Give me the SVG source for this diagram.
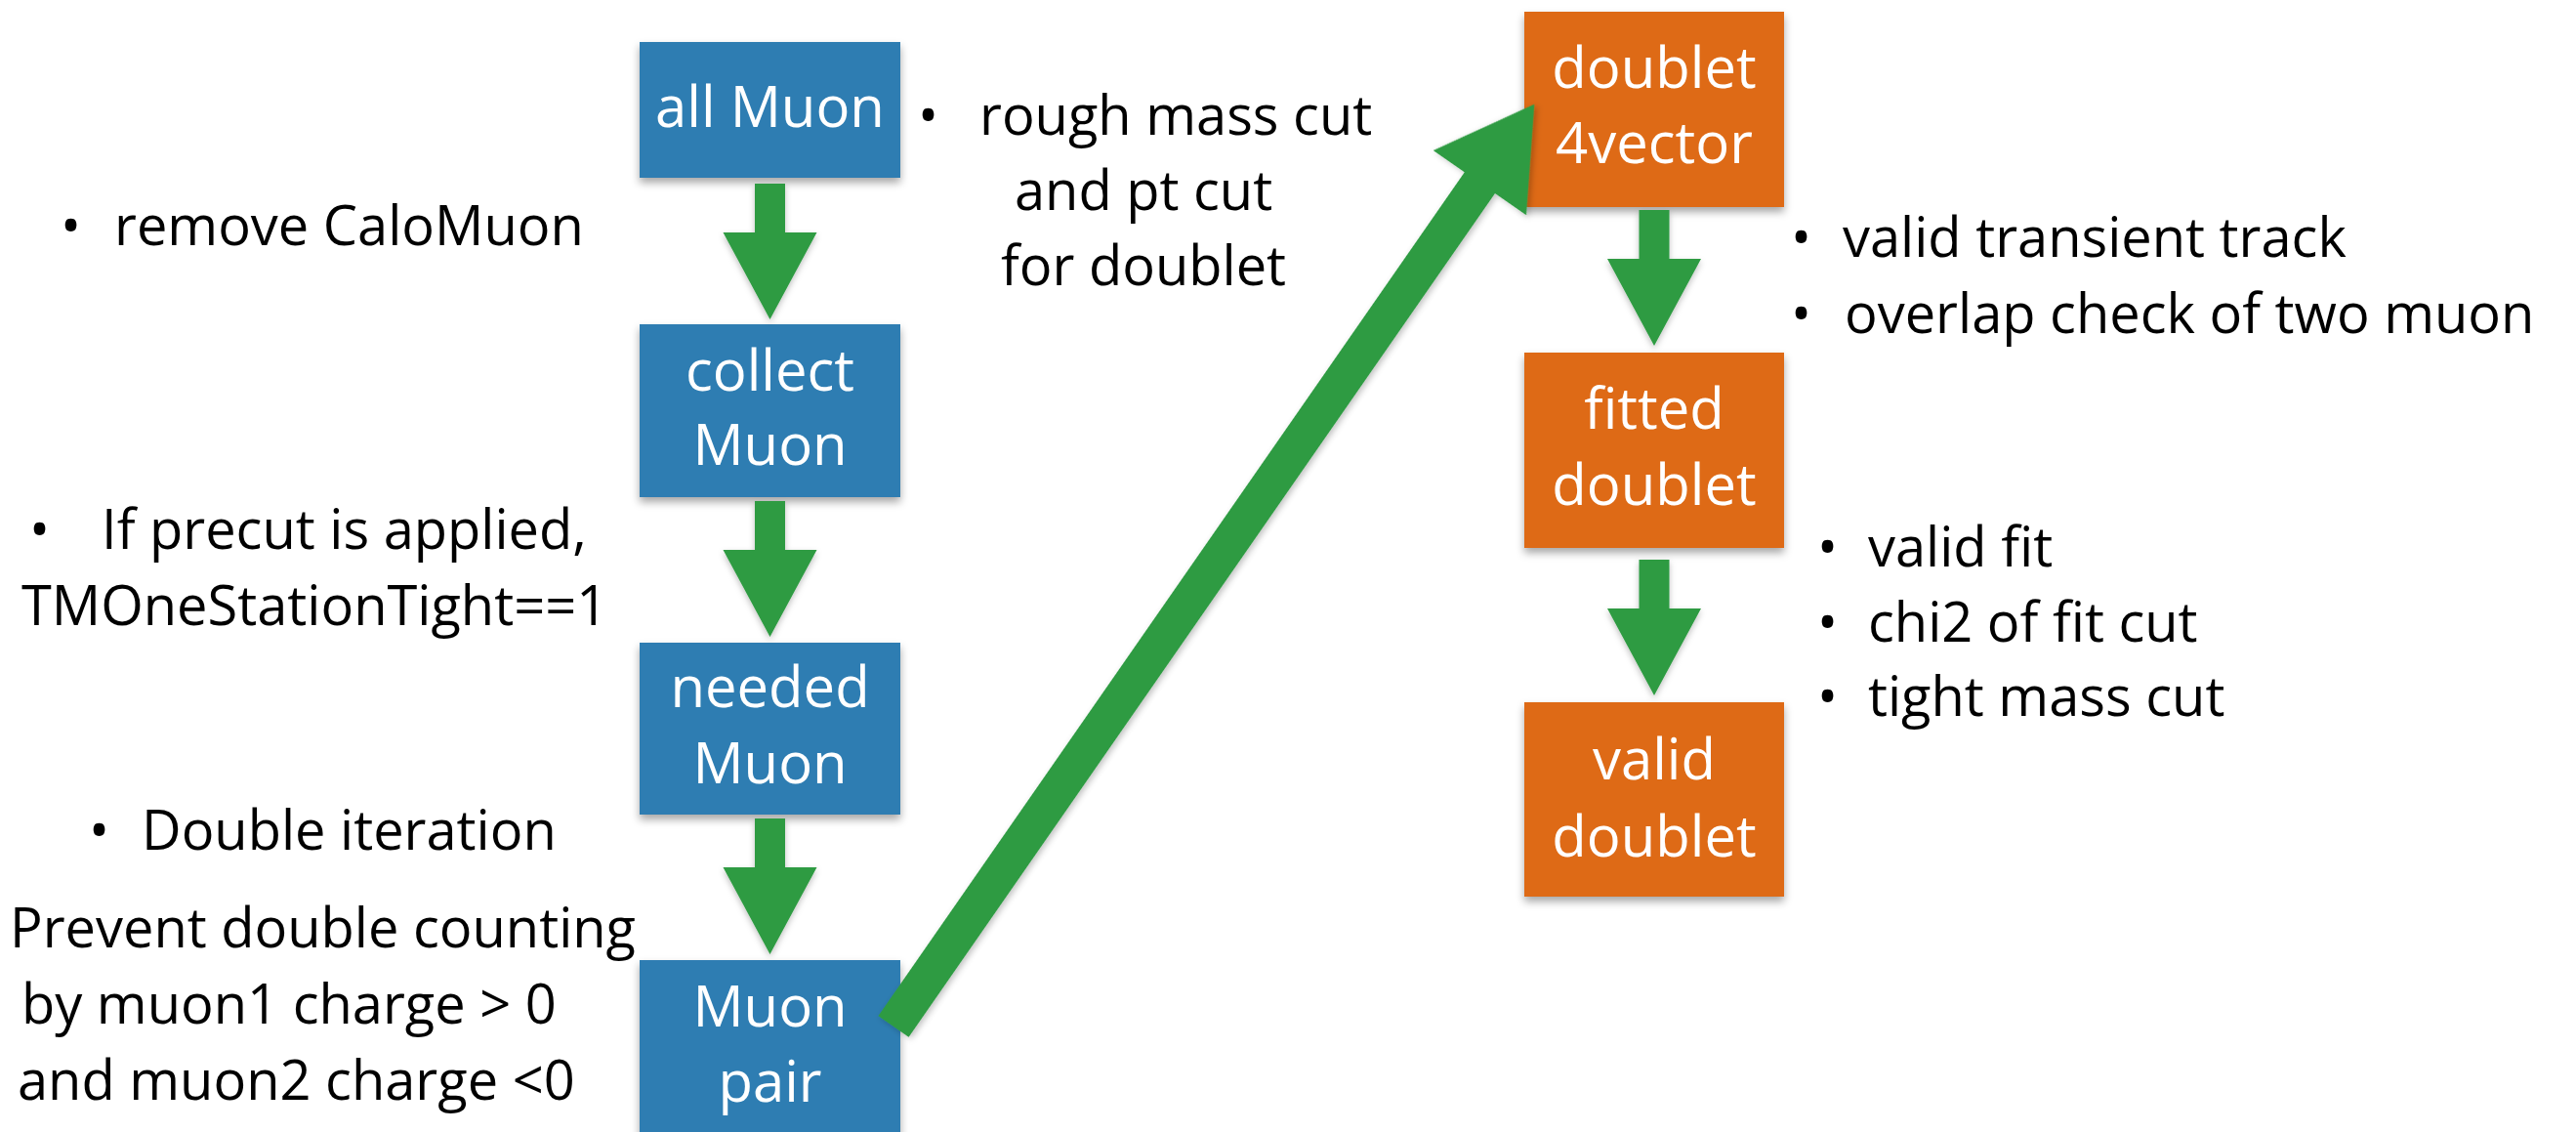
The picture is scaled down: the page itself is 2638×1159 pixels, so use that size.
<svg xmlns="http://www.w3.org/2000/svg" width="2638" height="1159" viewBox="0 0 2638 1159">
  <style>
    .blue { fill: #2f7db2; }
    .orange { fill: #de6a12; }
    .box { filter: url(#shadow); }
    .label { font-family: "Open Sans", "Noto Sans", "Liberation Sans", sans-serif; font-size: 58px; fill: #ffffff; text-anchor: middle; }
    .note { font-family: "Open Sans", "Noto Sans", "Liberation Sans", sans-serif; font-size: 56px; fill: #000000; }
    .arrow { fill: #2f9b42; filter: url(#ashadow); }
  </style>
  <defs>
    <filter id="shadow" x="-10%" y="-10%" width="120%" height="130%">
      <feDropShadow dx="0" dy="5" stdDeviation="4" flood-color="#000" flood-opacity="0.35"/>
    </filter>
    <filter id="ashadow" x="-20%" y="-20%" width="140%" height="140%">
      <feDropShadow dx="0" dy="3" stdDeviation="3" flood-color="#000" flood-opacity="0.25"/>
    </filter>
    <polygon id="down" points="-15.5,0 15.5,0 15.5,50 48,50 0,139 -48,50 -15.5,50"/>
  </defs>
  <rect width="2638" height="1159" fill="#ffffff"/>

  <g id="node-all-muon">
    <rect class="blue box" x="655" y="43" width="267" height="139"/>
    <text class="label" x="788.5" y="130">all Muon</text>
  </g>
  <g id="node-collect-muon">
    <rect class="blue box" x="655" y="332" width="267" height="177"/>
    <text class="label" x="788.5" y="400">collect</text>
    <text class="label" x="788.5" y="476">Muon</text>
  </g>
  <g id="node-needed-muon">
    <rect class="blue box" x="655" y="658" width="267" height="176"/>
    <text class="label" x="788.5" y="724">needed</text>
    <text class="label" x="788.5" y="802">Muon</text>
  </g>
  <g id="node-muon-pair">
    <rect class="blue box" x="655" y="983" width="267" height="200"/>
    <text class="label" x="788.5" y="1051">Muon</text>
    <text class="label" x="788.5" y="1128">pair</text>
  </g>
  <g id="node-doublet-4vector">
    <rect class="orange box" x="1561" y="12" width="266" height="200"/>
    <text class="label" x="1694" y="90">doublet</text>
    <text class="label" x="1694" y="167">4vector</text>
  </g>
  <g id="node-fitted-doublet">
    <rect class="orange box" x="1561" y="361" width="266" height="200"/>
    <text class="label" x="1694" y="439">fitted</text>
    <text class="label" x="1694" y="517">doublet</text>
  </g>
  <g id="node-valid-doublet">
    <rect class="orange box" x="1561" y="719" width="266" height="199"/>
    <text class="label" x="1694" y="798">valid</text>
    <text class="label" x="1694" y="877">doublet</text>
  </g>

  <g id="connectors">
    <use href="#down" class="arrow" x="788.5" y="188"/>
    <use href="#down" class="arrow" x="788.5" y="513"/>
    <use href="#down" class="arrow" x="788.5" y="838"/>
    <use href="#down" class="arrow" x="1694" y="215"/>
    <use href="#down" class="arrow" x="1694" y="573"/>
    <polygon class="arrow" transform="translate(915,1051) rotate(-55.2)" points="0,-19 1052,-19 1052,-58 1150,0 1052,58 1052,19 0,19"/>
  </g>

  <g id="notes">
    <text class="note" y="251"><tspan x="62">•</tspan><tspan x="117">remove CaloMuon</tspan></text>
    <text class="note" y="138"><tspan x="940">•</tspan><tspan x="1003">rough mass cut</tspan></text>
    <text class="note" x="1039" y="215">and pt cut</text>
    <text class="note" x="1025" y="292">for doublet</text>
    <text class="note" y="562"><tspan x="30">•</tspan><tspan x="104">If precut is applied,</tspan></text>
    <text class="note" x="22" y="640">TMOneStationTight==1</text>
    <text class="note" y="870"><tspan x="91">•</tspan><tspan x="145">Double iteration</tspan></text>
    <text class="note" x="10" y="970">Prevent double counting</text>
    <text class="note" x="22" y="1048">by muon1 charge &gt; 0</text>
    <text class="note" x="18" y="1126">and muon2 charge &lt;0</text>
    <text class="note" y="263"><tspan x="1834">•</tspan><tspan x="1887">valid transient track</tspan></text>
    <text class="note" y="341"><tspan x="1834">•</tspan><tspan x="1889">overlap check of two muon</tspan></text>
    <text class="note" y="580"><tspan x="1861">•</tspan><tspan x="1913">valid fit</tspan></text>
    <text class="note" y="657"><tspan x="1861">•</tspan><tspan x="1913">chi2 of fit cut</tspan></text>
    <text class="note" y="733"><tspan x="1861">•</tspan><tspan x="1913">tight mass cut</tspan></text>
  </g>
</svg>
